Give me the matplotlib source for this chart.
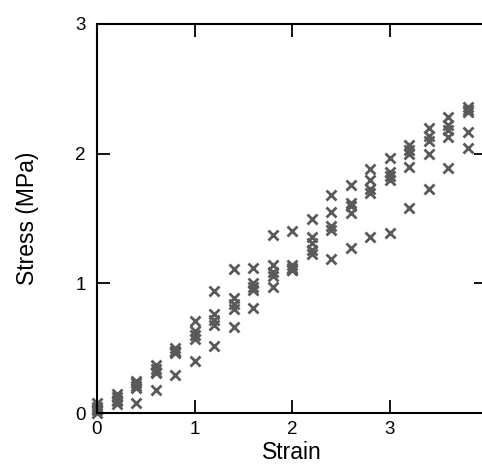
import matplotlib
matplotlib.use("Agg")
import matplotlib.pyplot as plt
import numpy as np

plt.rcParams['font.family'] = ['Liberation Sans', 'DejaVu Sans']

strain = [0.0, 0.2, 0.4, 0.6, 0.8, 1.0, 1.2, 1.4, 1.6, 1.8,
          2.0, 2.2, 2.4, 2.6, 2.8, 3.0, 3.2, 3.4, 3.6, 3.8]

stress_a = [0.08, 0.15, 0.25, 0.37, 0.50, 0.71, 0.94, 1.11, 1.12, 1.37,
            1.40, 1.50, 1.68, 1.76, 1.88, 1.97, 2.07, 2.20, 2.28, 2.36]
stress_b = [0.05, 0.12, 0.23, 0.34, 0.48, 0.63, 0.76, 0.89, 1.00, 1.14,
            1.14, 1.36, 1.55, 1.62, 1.80, 1.86, 2.03, 2.14, 2.22, 2.34]
stress_c = [0.03, 0.10, 0.21, 0.32, 0.47, 0.60, 0.72, 0.84, 0.97, 1.09,
            1.12, 1.31, 1.44, 1.60, 1.73, 1.83, 2.00, 2.10, 2.18, 2.32]
stress_d = [0.02, 0.09, 0.19, 0.31, 0.46, 0.57, 0.68, 0.80, 0.95, 1.06,
            1.10, 1.26, 1.41, 1.54, 1.70, 1.80, 1.90, 2.00, 2.13, 2.17]
stress_e = [0.00, 0.07, 0.08, 0.18, 0.29, 0.40, 0.52, 0.66, 0.81, 0.97,
            1.10, 1.23, 1.19, 1.27, 1.36, 1.39, 1.58, 1.73, 1.89, 2.04]

xticks = [0, 1, 2, 3, 4]
yticks = [0, 1, 2, 3]

fig = plt.figure(figsize=(4.82, 4.66), dpi=100)
ax = fig.add_axes([97/482, (466-413)/466, 390/482, 389/466])

for s in (stress_a, stress_b, stress_c, stress_d, stress_e):
    ax.plot(strain, s, linestyle='none', marker='x', markersize=7.5,
            markeredgewidth=2.0, color='#5a5a5a', clip_on=False)

ax.set_xlim(0, 4)
ax.set_ylim(0, 3)
ax.set_xticks(xticks)
ax.set_yticks(yticks)
ax.set_xticklabels([str(t) for t in xticks])
ax.set_yticklabels([str(t) for t in yticks])
ax.tick_params(direction='in', length=9.5, width=1.3, top=True, right=True,
               labelsize=13.5)
ax.tick_params(axis='y', pad=8)
ax.tick_params(axis='x', pad=6)
for sp in ax.spines.values():
    sp.set_linewidth(1.5)

ax.set_xlabel('Strain', fontsize=16.5, labelpad=2)
ax.set_ylabel('Stress (MPa)', fontsize=16.5, labelpad=26)

fig.savefig('out.png', dpi=100)
